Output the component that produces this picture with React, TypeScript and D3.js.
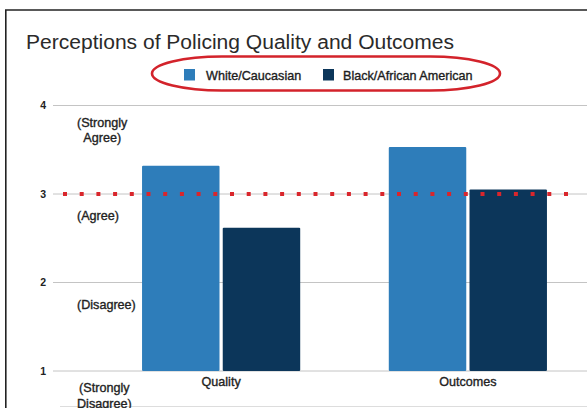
import React, { useLayoutEffect, useRef } from "react";
import * as d3 from "d3";

const TITLE = "Perceptions of Policing Quality and Outcomes";
const CATEGORIES = ["Quality", "Outcomes"];
const SERIES = ["White/Caucasian", "Black/African American"];
const WHITE_VALUES = [3.32, 3.53];
const BLACK_VALUES = [2.62, 3.05];
const Y_TICKS = [1, 2, 3, 4];
const Y_TICK_DESCRIPTIONS = [
  ["(Strongly", "Disagree)"],
  ["(Disagree)"],
  ["(Agree)"],
  ["(Strongly", "Agree)"],
];
const REFERENCE_VALUE = 3;
const COLORS = ["#2e7dba", "#0c365a"];

const W = 587;
const H = 408;

export default function App() {
  const ref = useRef<SVGSVGElement>(null);

  const y = d3.scaleLinear().domain([1, 4]).range([371, 105.5]);
  const x0 = d3
    .scaleBand<string>()
    .domain(CATEGORIES)
    .range([97.75, 591.25])
    .paddingInner(0.359)
    .paddingOuter(0.1795);
  const x1 = d3
    .scaleBand<string>()
    .domain(SERIES)
    .range([0, x0.bandwidth()])
    .paddingInner(0.04);
  const seriesValues = [WHITE_VALUES, BLACK_VALUES];
  const font = "'Liberation Sans', Arial, Helvetica, sans-serif";

  useLayoutEffect(() => {
    if (!ref.current) return;
    const svg = d3.select(ref.current);
    svg.selectAll<SVGGElement, unknown>("g.side-label").each(function () {
      const texts = d3.select(this).selectAll<SVGTextElement, unknown>("text");
      let maxW = 0;
      texts.each(function () {
        maxW = Math.max(maxW, this.getComputedTextLength());
      });
      texts.each(function () {
        const w = this.getComputedTextLength();
        d3.select(this).attr("x", 77 + (maxW - w) / 2);
      });
    });
  }, []);

  const labelStyle = { stroke: "#222", strokeWidth: 0.35 } as const;

  return (
    <svg
      ref={ref}
      width={W}
      height={H}
      style={{ position: "absolute", left: 0, top: 0, background: "#fff" }}
      fontFamily={font}
    >
      <rect x={0} y={0} width={W} height={H} fill="#fff" />
      {/* frame */}
      <line x1={5} x2={W} y1={10} y2={10} stroke="#222" strokeWidth={1.6} />
      <line x1={5.8} x2={5.8} y1={10} y2={H} stroke="#222" strokeWidth={1.6} />
      <line x1={60} x2={W} y1={406.5} y2={406.5} stroke="#ddd" strokeWidth={1.2} />

      {/* title */}
      <text x={26} y={48.5} fontSize={20} fill="#2a2a2a" textLength={428} lengthAdjust="spacingAndGlyphs">
        {TITLE}
      </text>

      {/* legend */}
      <rect x={152} y={56.5} width={348} height={34} rx={70} ry={17} fill="none" stroke="#d3232b" strokeWidth={2.6} />
      {SERIES.map((s, i) => {
        const lx = [184, 323][i];
        return (
          <g key={s}>
            <rect x={lx} y={69} width={11} height={11.5} fill={COLORS[i]} />
            <text x={lx + (i === 0 ? 22 : 20)} y={79.5} fontSize={12.6} fill="#1a1a1a" {...labelStyle}>
              {s}
            </text>
          </g>
        );
      })}

      {/* gridlines and ticks */}
      {Y_TICKS.map((t) => (
        <g key={t}>
          <line x1={53} x2={W} y1={y(t)} y2={y(t)} stroke="#c4c4c4" strokeWidth={1} />
          <text x={46} y={y(t) + 3.8} fontSize={10.5} fontWeight="bold" textAnchor="end" fill="#222">
            {t}
          </text>
        </g>
      ))}
      {Y_TICKS.map((t, i) => {
        const lines = Y_TICK_DESCRIPTIONS[i];
        return (
          <g key={"d" + t} className="side-label">
            {lines.map((ln, j) => (
              <text
                key={j}
                x={77}
                y={y(t) + (lines.length === 1 ? 26 : 21 + j * 15.5)}
                fontSize={12.6}
                fill="#222"
                {...labelStyle}
              >
                {ln}
              </text>
            ))}
          </g>
        );
      })}

      {/* bars */}
      {CATEGORIES.map((c, ci) => (
        <g key={c} transform={`translate(${x0(c)},0)`}>
          {SERIES.map((s, si) => {
            const v = seriesValues[si][ci];
            return (
              <rect
                key={s}
                x={x1(s)}
                y={y(v)}
                width={x1.bandwidth()}
                height={y(1) - y(v)}
                fill={COLORS[si]}
                rx={1}
              />
            );
          })}
          <text
            x={x0.bandwidth() / 2}
            y={386}
            fontSize={12.6}
            textAnchor="middle"
            fill="#222"
            {...labelStyle}
          >
            {c}
          </text>
        </g>
      ))}

      {/* reference dotted line */}
      <line
        x1={63}
        x2={575}
        y1={y(REFERENCE_VALUE)}
        y2={y(REFERENCE_VALUE)}
        stroke="#d9262c"
        strokeWidth={4}
        strokeDasharray="4 12.7"
      />
    </svg>
  );
}
